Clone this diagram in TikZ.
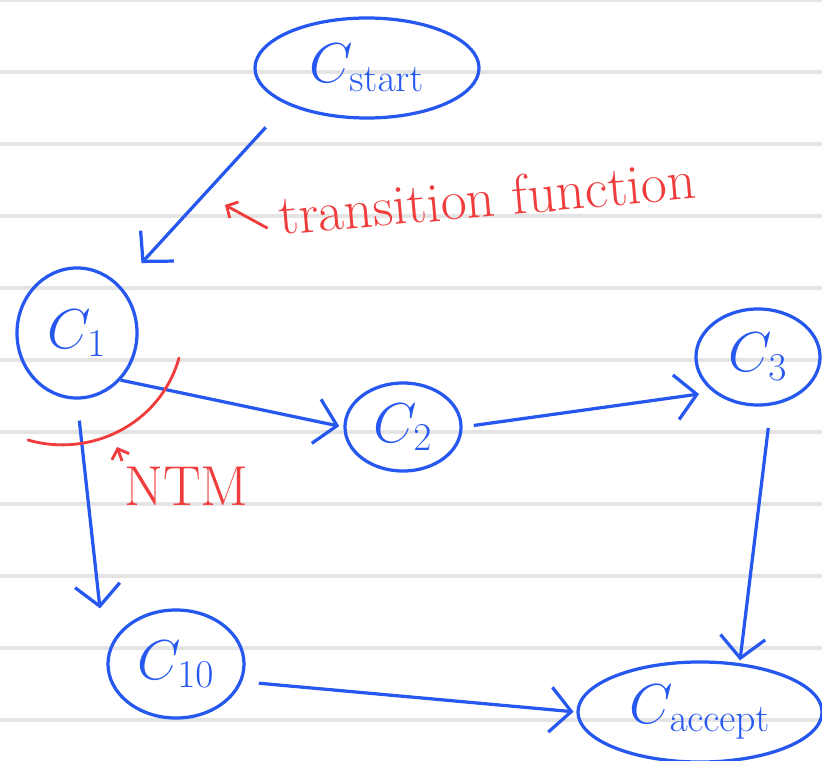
\RequirePackage{fix-cm}
\documentclass[tikz,border=0pt]{standalone}
\usepackage{xcolor}
\usetikzlibrary{shapes.geometric,arrows.meta,positioning,calc}

\definecolor{inkblue}{RGB}{38,88,240}
\definecolor{inkred}{RGB}{240,60,60}
\definecolor{ruleline}{RGB}{228,228,228}

\tikzset{
  config/.style={draw=inkblue, ellipse, line width=2.3pt, text=inkblue, inner sep=0pt, font=\fontsize{40}{44}\selectfont},
  link/.style={draw=inkblue, line width=2.3pt, -{Straight Barb[length=15pt,width=32pt]}},
  note/.style={text=inkred, inner sep=0pt, font=\fontsize{40}{44}\selectfont},
  notelink/.style={draw=inkred, line width=2pt, -{Straight Barb[length=6pt,width=13pt]}},
  ruled/.style={draw=ruleline, line width=2.5pt},
}

\begin{document}
\begin{tikzpicture}[x=0.025cm, y=-0.025cm]
  \useasboundingbox (0,0) rectangle (822,761);
  \fill[white] (0,0) rectangle (822,761);
  % lined paper
  \foreach \k in {0,...,10}
    \draw[ruled] (0,72*\k) -- (822,72*\k);

  % configurations
  \node[config, minimum width=5.6cm, minimum height=2.5cm] (cstart) at (367,68) {$C_{\mathrm{start}}$};
  \node[config, minimum width=3.0cm, minimum height=3.25cm] (c1) at (77,333) {$C_1$};
  \node[config, minimum width=2.9cm, minimum height=2.2cm] (c2) at (403,427) {$C_2$};
  \node[config, minimum width=3.1cm, minimum height=2.4cm] (c3) at (758,357) {$C_3$};
  \node[config, minimum width=3.4cm, minimum height=2.7cm] (c10) at (176,664) {$C_{10}$};
  \node[config, minimum width=6.1cm, minimum height=2.5cm] (caccept) at (700,712) {$C_{\mathrm{accept}}$};

  % computation steps
  \draw[link, shorten <=22pt, shorten >=22pt] (cstart.south west) -- (c1.north east);
  \draw[link, shorten >=3pt] (c1.south east) -- (c2.west);
  \draw[link, shorten <=8pt, shorten >=10pt] (c2.east) -- (c3.south west);
  \draw[link, shorten <=16pt] (c3.-75) -- ([xshift=1cm]caccept.north);
  \draw[link, shorten <=15pt] (c1.south) -- ([xshift=-1.9cm]c10.north);
  \draw[link, shorten <=12pt, shorten >=2pt] (c10.-15) -- (caccept.west);

  % notes
  \node[note, anchor=base west, rotate=5] (tf) at (280,235) {transition function};
  \coordinate (tftip) at (225,205);
  \draw[notelink, shorten <=10pt] (tf.base west) -- (tftip);

  \node[note, anchor=base west] (ntm) at (124,505) {NTM};
  \coordinate (ntmtip) at (117,447);
  \draw[notelink, shorten <=4pt] (ntm.north west) -- (ntmtip);

  \draw[inkred, line width=2pt, line cap=round] (28,440) .. controls (90,458) and (160,425) .. (179,358);
\end{tikzpicture}
\end{document}
